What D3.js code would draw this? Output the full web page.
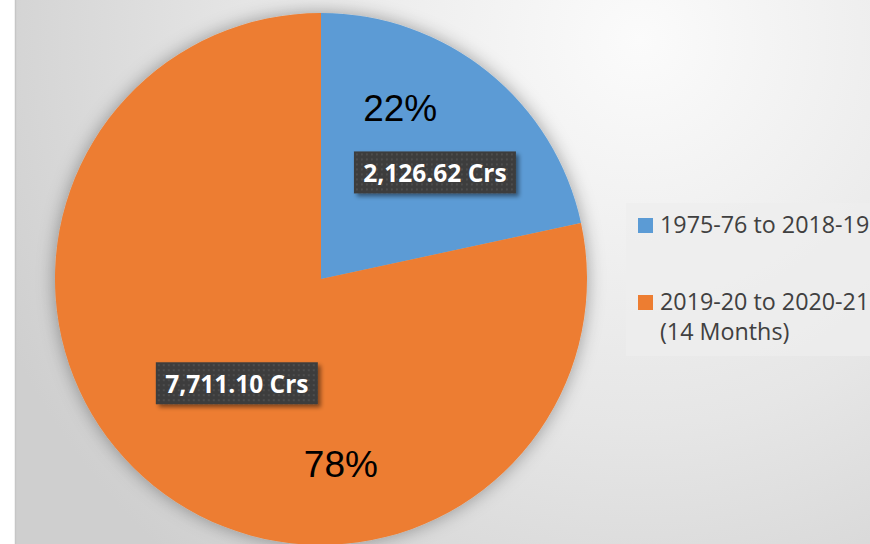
<!DOCTYPE html>
<html>
<head>
<meta charset="utf-8">
<script src="https://cdn.jsdelivr.net/npm/d3@7"></script>
<style>
  body { margin: 0; background: #fff; }
  svg { display: block; }
</style>
</head>
<body>
<div id="wrapper"></div>
<script>
const categories = ["1975-76 to 2018-19", "2019-20 to 2020-21 (14 Months)"];
const legendLines = [["1975-76 to 2018-19"], ["2019-20 to 2020-21", "(14 Months)"]];
const values = [2126.62, 7711.10];
const valueLabels = ["2,126.62 Crs", "7,711.10 Crs"];
const percentLabels = ["22%", "78%"];
const colors = ["#5b9bd5", "#ed7d31"];

const data = categories.map((c, i) => ({ name: c, value: values[i] }));

let dimensions = {
    width: 870,
    height: 544,
    plotLeft: 15,
    center: { x: 321, y: 279 },
    radius: 266
};

const svg = d3.select('#wrapper')
    .append('svg')
    .attr('width', dimensions.width)
    .attr('height', dimensions.height);

const defs = svg.append('defs');

const bgGrad = defs.append('radialGradient')
    .attr('id', 'bg')
    .attr('gradientUnits', 'userSpaceOnUse')
    .attr('cx', 640).attr('cy', 40).attr('r', 700);
bgGrad.append('stop').attr('offset', '0%').attr('stop-color', '#fbfbfb');
bgGrad.append('stop').attr('offset', '55%').attr('stop-color', '#e6e6e6');
bgGrad.append('stop').attr('offset', '100%').attr('stop-color', '#cfcfcf');

const shadow = defs.append('filter')
    .attr('id', 'pieShadow')
    .attr('x', '-20%').attr('y', '-20%').attr('width', '140%').attr('height', '140%');
shadow.append('feDropShadow')
    .attr('dx', 0).attr('dy', 0)
    .attr('stdDeviation', 9)
    .attr('flood-color', '#000')
    .attr('flood-opacity', 0.35);

const boxShadow = defs.append('filter')
    .attr('id', 'boxShadow')
    .attr('x', '-20%').attr('y', '-40%').attr('width', '140%').attr('height', '180%');
boxShadow.append('feDropShadow')
    .attr('dx', 3).attr('dy', 3)
    .attr('stdDeviation', 2)
    .attr('flood-color', '#000')
    .attr('flood-opacity', 0.45);

const dots = defs.append('pattern')
    .attr('id', 'dots')
    .attr('patternUnits', 'userSpaceOnUse')
    .attr('width', 5).attr('height', 5);
dots.append('rect').attr('width', 5).attr('height', 5).attr('fill', '#3d3d3d');
dots.append('rect').attr('x', 1).attr('y', 1).attr('width', 2).attr('height', 2).attr('fill', '#4d4d4d');

// background
svg.append('rect')
    .attr('x', dimensions.plotLeft)
    .attr('y', 0)
    .attr('width', dimensions.width - dimensions.plotLeft)
    .attr('height', dimensions.height)
    .attr('fill', 'url(#bg)');
svg.append('line')
    .attr('x1', dimensions.plotLeft + 0.5).attr('x2', dimensions.plotLeft + 0.5)
    .attr('y1', 0).attr('y2', dimensions.height)
    .attr('stroke', '#c6c6c6').attr('stroke-width', 1.5);

const pie = d3.pie().sort(null).value(d => d.value);
const arcs = pie(data);

const arc = d3.arc().innerRadius(0).outerRadius(dimensions.radius);

const bounds = svg.append('g')
    .attr('transform', `translate(${dimensions.center.x},${dimensions.center.y})`);

bounds.append('g')
    .attr('filter', 'url(#pieShadow)')
    .selectAll('path')
    .data(arcs)
    .join('path')
    .attr('d', arc)
    .attr('fill', (d, i) => colors[i]);

// label placement (angle shift in degrees from slice mid, radius)
const percentPlace = [{ shift: -14, r: 188 }, { shift: -45, r: 187 }];
const valuePlace = [{ shift: 8, r: 156 }, { shift: 0, r: 134 }];

const polar = (d, p) => {
    const a = (d.startAngle + d.endAngle) / 2 + p.shift * Math.PI / 180;
    return [Math.sin(a) * p.r, -Math.cos(a) * p.r];
};

bounds.selectAll('text.pct')
    .data(arcs)
    .join('text')
    .attr('class', 'pct')
    .attr('x', d => polar(d, percentPlace[d.index])[0])
    .attr('y', d => polar(d, percentPlace[d.index])[1])
    .attr('text-anchor', 'middle')
    .attr('dominant-baseline', 'central')
    .attr('font-family', 'Liberation Sans, Arial, sans-serif')
    .attr('font-size', 37)
    .attr('fill', '#000')
    .text((d, i) => percentLabels[i]);

const valueGroups = bounds.selectAll('g.val')
    .data(arcs)
    .join('g')
    .attr('class', 'val')
    .attr('transform', d => `translate(${polar(d, valuePlace[d.index])})`);

valueGroups.append('rect')
    .attr('x', -81).attr('y', -21)
    .attr('width', 162).attr('height', 42)
    .attr('fill', 'url(#dots)')
    .attr('filter', 'url(#boxShadow)');

valueGroups.append('text')
    .attr('text-anchor', 'middle')
    .attr('dominant-baseline', 'central')
    .attr('y', 0)
    .attr('font-family', '"Open Sans", sans-serif')
    .attr('font-weight', 'bold')
    .attr('font-size', 24.5)
    .attr('fill', '#fff')
    .text((d, i) => valueLabels[i]);

// legend
const legend = svg.append('g');
legend.append('rect')
    .attr('x', 626).attr('y', 203)
    .attr('width', 260).attr('height', 153)
    .attr('fill', '#eeeeee')
    .attr('opacity', 0.75);

const legendItems = legend.selectAll('g.item')
    .data(legendLines)
    .join('g')
    .attr('class', 'item')
    .attr('transform', (d, i) => `translate(638, ${218 + i * 77})`);

legendItems.append('rect')
    .attr('width', 15).attr('height', 15)
    .attr('fill', (d, i) => colors[i]);

legendItems.selectAll('text')
    .data(d => d)
    .join('text')
    .attr('x', 22)
    .attr('y', (d, j) => 15 + j * 30)
    .attr('font-family', '"Open Sans", sans-serif')
    .attr('font-size', 23.3)
    .attr('fill', '#404040')
    .text(d => d);
</script>
</body>
</html>
